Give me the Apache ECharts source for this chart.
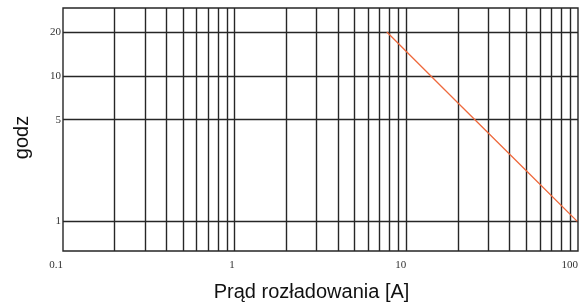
<!DOCTYPE html>
<html><head><meta charset="utf-8">
<script src="https://cdn.jsdelivr.net/npm/echarts@6/dist/echarts.min.js"></script>
<style>html,body{margin:0;padding:0;background:#fff}#c{width:588px;height:307px}</style>
</head><body><div id="c"></div>
<script>
// data
var xGridValues = [0.2,0.3,0.4,0.5,0.6,0.7,0.8,0.9,1,2,3,4,5,6,7,8,9,10,20,30,40,50,60,70,80,90];
var yGridValues = [1,5,10,20];
var xTickLabels = [0.1,1,10,100];
var yTickLabels = [1,5,10,20];
var current = [7.7,10,20,50,99];
var hours = [20,14.7,6.5,2.23,1];

var chart = echarts.init(document.getElementById('c'));
var gridLineStyle = {color:'#262626', width:1.4, type:'solid'};
var markData = [];
xGridValues.forEach(function(v){ markData.push({xAxis:v}); });
yGridValues.forEach(function(v){ markData.push({yAxis:v}); });

chart.setOption({
  animation:false,
  grid:{left:63, right:10, top:8, bottom:53, show:true, borderColor:'#262626', borderWidth:1.4},
  xAxis:{type:'log', logBase:10, min:0.1, max:100,
    name:'Prąd rozładowania [A]', nameLocation:'middle', nameGap:31,
    nameTextStyle:{fontFamily:'Liberation Sans, Arial, sans-serif', fontSize:20, color:'#111', padding:[0,0,0,-18]},
    axisLine:{show:false}, axisTick:{show:false}, splitLine:{show:false}, minorSplitLine:{show:false},
    axisLabel:{customValues:xTickLabels, fontFamily:'Liberation Serif, serif', fontSize:11, color:'#333', margin:9, align:'right',
      formatter:function(v){return String(v);}}
  },
  yAxis:{type:'log', logBase:10, min:0.626, max:29.23,
    name:'godz', nameLocation:'middle', nameGap:31, nameRotate:90,
    nameTextStyle:{fontFamily:'Liberation Sans, Arial, sans-serif', fontSize:20, color:'#111', padding:[0,16,0,0]},
    axisLine:{show:false}, axisTick:{show:false}, splitLine:{show:false}, minorSplitLine:{show:false},
    axisLabel:{customValues:yTickLabels, fontFamily:'Liberation Serif, serif', fontSize:11, color:'#333', margin:2,
      formatter:function(v){return String(v);}}
  },
  series:[
    {type:'line', data:[], silent:true, z:1,
     markLine:{silent:true, symbol:['none','none'], label:{show:false}, lineStyle:gridLineStyle, animation:false, data:markData}},
    {type:'line', z:5, showSymbol:false, symbol:'none', data:current.map(function(x,i){return [x,hours[i]];}),
     lineStyle:{color:'#ee6a3e', width:1.3}}
  ]
});
</script></body></html>
